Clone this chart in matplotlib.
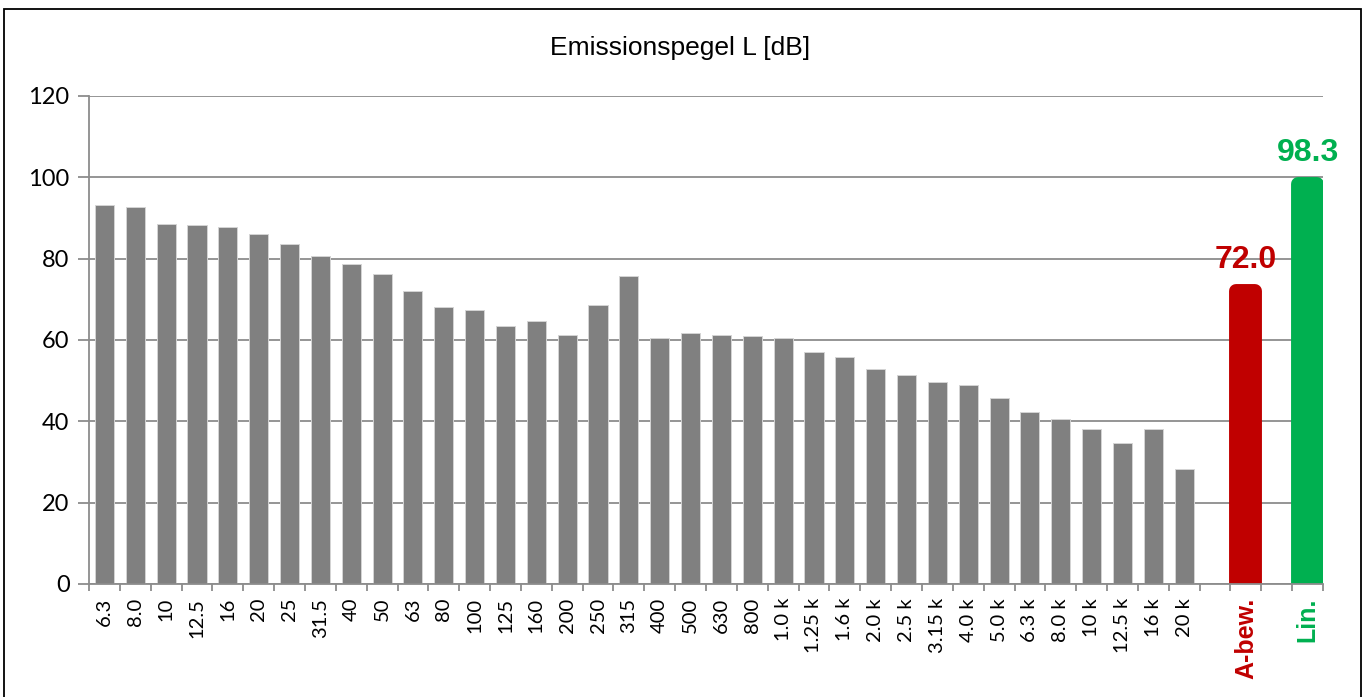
import matplotlib
matplotlib.use("Agg")
import matplotlib.pyplot as plt
from matplotlib.patches import Rectangle
import numpy as np

# Third-octave band centre frequencies and emission levels
bands = ["6.3", "8.0", "10", "12.5", "16", "20", "25", "31.5", "40", "50",
         "63", "80", "100", "125", "160", "200", "250", "315", "400", "500",
         "630", "800", "1.0 k", "1.25 k", "1.6 k", "2.0 k", "2.5 k", "3.15 k",
         "4.0 k", "5.0 k", "6.3 k", "8.0 k", "10 k", "12.5 k", "16 k", "20 k"]
levels = [93.3, 92.6, 88.5, 88.3, 87.8, 86.0, 83.6, 80.7, 78.6, 76.3,
          72.0, 68.1, 67.3, 63.4, 64.6, 61.2, 68.6, 75.8, 60.6, 61.8,
          61.2, 61.1, 60.5, 57.0, 55.7, 52.9, 51.3, 49.6, 48.9, 45.7,
          42.2, 40.6, 38.0, 34.6, 38.1, 28.3]

# Overall levels
sum_labels = ["A-bew.", "Lin."]
sum_levels = [72.0, 98.3]
sum_colors = ["#C00000", "#00B050"]

title = "Emissionspegel L [dB]"
yticks = [0, 20, 40, 60, 80, 100, 120]

W, H, DPI = 1367, 697, 100
fig = plt.figure(figsize=(W / DPI, H / DPI), dpi=DPI)
fig.patch.set_facecolor("white")

# outer chart frame
fig.patches.append(Rectangle((4 / W, -0.01), (1361 - 4) / W, 1 - 9 / H + 0.01,
                             transform=fig.transFigure, fill=False,
                             edgecolor="black", linewidth=1.3, zorder=0))

ax = fig.add_axes([89 / W, 1 - 584 / H, (1323 - 89) / W, (584 - 96) / H])

grid_col = "#8c8c8c"
bar_w = 0.62

x_bands = np.arange(len(bands))
ax.bar(x_bands, levels, width=bar_w, color="#808080",
       edgecolor="#d4d4d4", linewidth=0.7, zorder=3)

x_sums = [len(bands) + 1, len(bands) + 3]
sum_bars = ax.bar(x_sums, sum_levels, width=bar_w, color=sum_colors,
                  edgecolor=sum_colors, linewidth=10.0, zorder=3)
for b in sum_bars:
    b.set_joinstyle("round")

for x, v, c in zip(x_sums, sum_levels, sum_colors):
    ax.annotate(f"{v:.1f}", xy=(x, v), xytext=(0, 12), textcoords="offset points",
                ha="center", va="bottom", color=c, fontsize=23,
                fontweight="bold", family="Liberation Sans", zorder=5)

ax.set_xlim(-0.5, len(bands) + 3.5)
ax.set_ylim(0, 120)
ax.set_yticks(yticks)
ax.yaxis.grid(True, color=grid_col, linewidth=1.3, zorder=0)
ax.set_axisbelow(True)

for s in ["top", "right"]:
    ax.spines[s].set_visible(False)
for s in ["left", "bottom"]:
    ax.spines[s].set_color(grid_col)
    ax.spines[s].set_linewidth(1.3)
    ax.spines[s].set_zorder(4)

# category labels at centres, tick marks on category boundaries
all_x = list(x_bands) + x_sums
all_labels = bands + sum_labels
ax.set_xticks(all_x)
ax.set_xticklabels(all_labels, rotation=90, fontsize=14.5, family="Lato")
ax.tick_params(axis="x", which="major", length=0, pad=10)
ax.set_xticks(np.arange(-0.5, len(bands) + 4, 1.0), minor=True)
ax.tick_params(axis="x", which="minor", length=5, width=1.3, color=grid_col)
ax.tick_params(axis="y", length=8, width=1.3, color=grid_col, pad=6)
for lab in ax.get_yticklabels():
    lab.set_fontsize(17)
    lab.set_family("Lato")

ticklabels = ax.get_xticklabels()
for lab, c in zip(ticklabels[-2:], sum_colors):
    lab.set_color(c)
    lab.set_fontweight("bold")
    lab.set_family("Liberation Sans")
    lab.set_fontsize(18)

fig.text(680 / W, 1 - 48 / H, title, ha="center", va="center",
         fontsize=19, family="Liberation Sans")

fig.savefig("out.png", dpi=DPI)
